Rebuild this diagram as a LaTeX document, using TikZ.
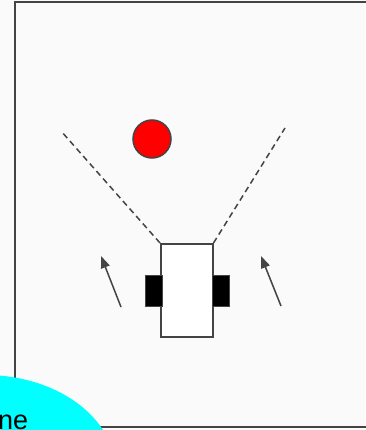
\documentclass[tikz,border=0pt]{standalone}
\usepackage{fontspec}
\setmainfont{Liberation Sans}
\usetikzlibrary{arrows.meta}
\definecolor{bgc}{HTML}{FAFAFA}
\definecolor{linec}{HTML}{444444}
\definecolor{bubble}{RGB}{0,255,255}
\begin{document}
\begin{tikzpicture}[x=1pt,y=-1pt,
  frame/.style={draw=linec,line width=2pt},
  body/.style={draw=linec,line width=1.5pt,fill=white},
  wheel/.style={draw=linec,line width=1.2pt,fill=black},
  fov/.style={draw=linec,line width=1.5pt,dash pattern=on 6pt off 4pt},
  motion/.style={draw=linec,line width=1.5pt,-{Triangle[length=12pt,width=9pt]}},
  ball/.style={circle,draw=linec,line width=1.5pt,fill=red,minimum size=38pt,inner sep=0pt}]
\useasboundingbox (0,0) rectangle (365,430);
\fill[bgc] (0,0) rectangle (365,430);
\draw[frame] (14.5,2.5) rectangle (372,427);
% robot body
\node[body,minimum width=52pt,minimum height=93pt,inner sep=0pt,anchor=north west] (robot) at (160,243) {};
\node[wheel,minimum width=17pt,minimum height=31pt,inner sep=0pt,anchor=north east] (lw) at (163,275) {};
\node[wheel,minimum width=17pt,minimum height=31pt,inner sep=0pt,anchor=north west] (rw) at (212,275) {};
% field of view
\coordinate (fl) at (61,131);
\coordinate (fr) at (285,128);
\draw[fov] (robot.north west) -- (fl);
\draw[fov] (robot.north east) -- (fr);
% ball
\node[ball] (target) at (152,139) {};
% motion arrows
\coordinate (la0) at (121,307);
\coordinate (la1) at (101,256);
\coordinate (ra0) at (281,306);
\coordinate (ra1) at (261,256);
\draw[motion] (la0) -- (la1);
\draw[motion] (ra0) -- (ra1);
% cyan label bubble
\fill[bubble] (-15,470) ellipse [x radius=130, y radius=95];
\node[anchor=base west,inner sep=0pt,font=\fontsize{27}{30}\selectfont] (lbl) at (-2,429) {ne};
\end{tikzpicture}
\end{document}
